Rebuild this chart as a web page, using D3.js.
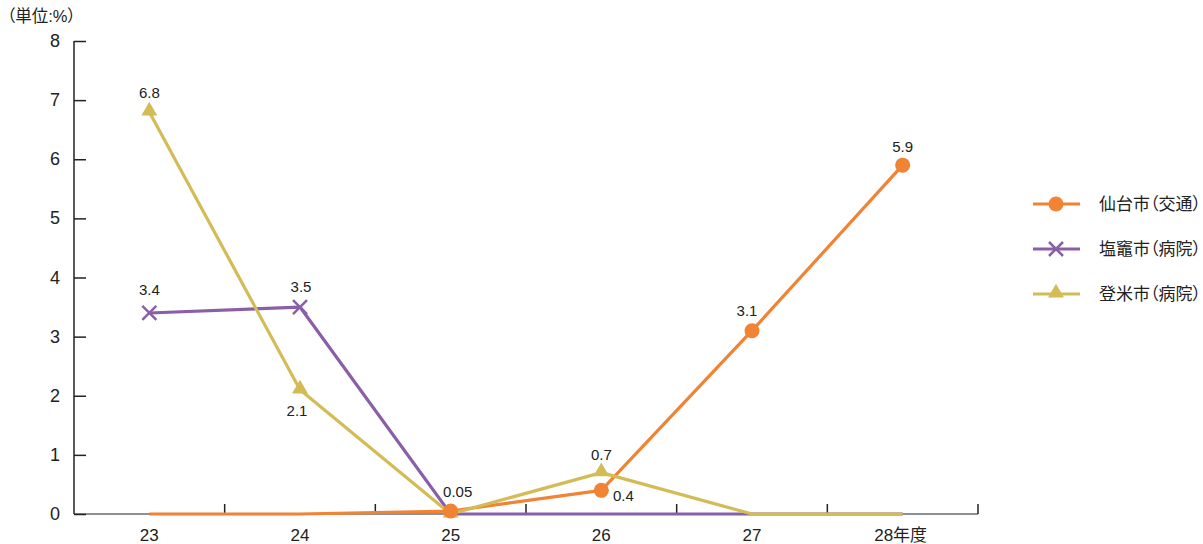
<!DOCTYPE html>
<html>
<head>
<meta charset="utf-8">
<script src="https://cdn.jsdelivr.net/npm/d3@7"></script>
<style>
  body { margin: 0; background: #fff; }
  text { font-family: "Liberation Sans", Arial, "Noto Sans CJK JP", sans-serif; fill: #222; font-feature-settings: "palt"; }
</style>
</head>
<body>
<div id="chart"></div>
<script>
// categories (fiscal years) and tick labels
const years = ["23", "24", "25", "26", "27", "28"];
const yearLabels = ["23", "24", "25", "26", "27", "28年度"];
const yTicks = [0, 1, 2, 3, 4, 5, 6, 7, 8];

// series values (%)
const sendai = [0, 0, 0.05, 0.4, 3.1, 5.9];
const shiogama = [3.4, 3.5, 0, 0, 0, 0];
const tome = [6.8, 2.1, 0, 0.7, 0, 0];

// which points show a marker + label text
const sendaiLabels = [null, null, "0.05", "0.4", "3.1", "5.9"];
const shiogamaLabels = ["3.4", "3.5", null, null, null, null];
const tomeLabels = ["6.8", "2.1", "", "0.7", null, null];

const seriesNames = ["仙台市（交通）", "塩竈市（病院）", "登米市（病院）"];

// label placement (dx, dy of label centre relative to point)
const sendaiPlace = [null, null, [7, -19], [22, 6], [-5, -20], [0, -18]];
const shiogamaPlace = [[0, -23], [1, -20], null, null, null, null];
const tomePlace = [[0, -19], [-3, 21], [0, 0], [0, -18], null, null];

const width = 1203, height = 544;
const margin = { top: 41, left: 74, right: 225, bottom: 30 };

const svg = d3.select("#chart").append("svg")
  .attr("width", width)
  .attr("height", height);

const x = d3.scaleBand().domain(years).range([margin.left, width - margin.right]).padding(0);
const y = d3.scaleLinear().domain([0, 8]).range([height - margin.bottom, margin.top]);
const cx = d => x(d) + x.bandwidth() / 2;

// unit label
svg.append("text")
  .attr("x", 7).attr("y", 22)
  .style("font-size", "16.5px")
  .text("（単位:%）");

// y axis
const yAxis = svg.append("g")
  .attr("transform", "translate(" + margin.left + ",0)")
  .call(d3.axisRight(y).tickValues(yTicks).tickSize(12).tickFormat(d => ""));
yAxis.select(".domain").attr("d", "M0," + y(8) + "V" + y(0)).attr("stroke", "#222").attr("stroke-width", 1.5);
yAxis.selectAll(".tick line").attr("stroke", "#222").attr("stroke-width", 1.5);
svg.selectAll(".ylab").data(yTicks).enter().append("text")
  .attr("x", 60).attr("y", d => y(d) + 6)
  .attr("text-anchor", "end")
  .style("font-size", "18px")
  .text(d => d);

// x axis
const x0 = y(0);
svg.append("line")
  .attr("x1", margin.left).attr("x2", width - margin.right)
  .attr("y1", x0).attr("y2", x0)
  .attr("stroke", "#222").attr("stroke-width", 1.2);
svg.selectAll(".xtick").data(years).enter().append("line")
  .attr("x1", d => x(d) + x.bandwidth()).attr("x2", d => x(d) + x.bandwidth())
  .attr("y1", x0).attr("y2", x0 - 10)
  .attr("stroke", "#222").attr("stroke-width", 1.5);
svg.selectAll(".xlab").data(years).enter().append("text")
  .attr("x", (d, i) => cx(d) + (i === 5 ? -2 : 0)).attr("y", x0 + 27)
  .attr("text-anchor", "middle")
  .style("font-size", "17px")
  .text((d, i) => yearLabels[i]);

const series = [
  { name: seriesNames[1], values: shiogama, labels: shiogamaLabels, place: shiogamaPlace, color: "#8a5fa8", shape: "cross" },
  { name: seriesNames[0], values: sendai, labels: sendaiLabels, place: sendaiPlace, color: "#f08334", shape: "circle" },
  { name: seriesNames[2], values: tome, labels: tomeLabels, place: tomePlace, color: "#d3bc56", shape: "triangle" }
];

const line = d3.line().x((d, i) => cx(years[i])).y(d => y(d));

series.forEach(s => {
  svg.append("path")
    .datum(s.values)
    .attr("d", line)
    .attr("fill", "none")
    .attr("stroke", s.color)
    .attr("stroke-width", 3.2)
    .attr("stroke-linejoin", "round");
});

function drawMarker(g, shape, color, px, py) {
  if (shape === "circle") {
    g.append("circle").attr("cx", px).attr("cy", py).attr("r", 7.5).attr("fill", color);
  } else if (shape === "cross") {
    const r = 7;
    g.append("path")
      .attr("d", "M" + (px - r) + "," + (py - r) + "L" + (px + r) + "," + (py + r) + "M" + (px - r) + "," + (py + r) + "L" + (px + r) + "," + (py - r))
      .attr("stroke", color).attr("stroke-width", 2.5).attr("fill", "none");
  } else {
    g.append("path")
      .attr("d", d3.symbol().type(d3.symbolTriangle).size(110)())
      .attr("transform", "translate(" + px + "," + (py - 1) + ")")
      .attr("fill", color);
  }
}

// markers: tome, shiogama, then sendai on top
[series[2], series[0], series[1]].forEach(s => {
  const g = svg.append("g");
  s.values.forEach((v, i) => {
    if (s.labels[i] === null) return;
    drawMarker(g, s.shape, s.color, cx(years[i]), y(v));
  });
});

// data labels
series.forEach(s => {
  s.values.forEach((v, i) => {
    if (!s.labels[i]) return;
    const p = s.place[i];
    svg.append("text")
      .attr("x", cx(years[i]) + p[0])
      .attr("y", y(v) + p[1] + 5)
      .attr("text-anchor", "middle")
      .style("font-size", "15px")
      .text(s.labels[i]);
  });
});

// legend
const legendRows = [series[1], series[0], series[2]];
const legend = svg.append("g");
legendRows.forEach((s, i) => {
  const ly = 204 + i * 45;
  legend.append("line")
    .attr("x1", 1033).attr("x2", 1080)
    .attr("y1", ly).attr("y2", ly)
    .attr("stroke", s.color).attr("stroke-width", 3.2);
  drawMarker(legend, s.shape, s.color, 1056, ly);
  legend.append("text")
    .attr("x", 1099).attr("y", ly + 6)
    .style("font-size", "17px")
    .text(s.name);
});
</script>
</body>
</html>
